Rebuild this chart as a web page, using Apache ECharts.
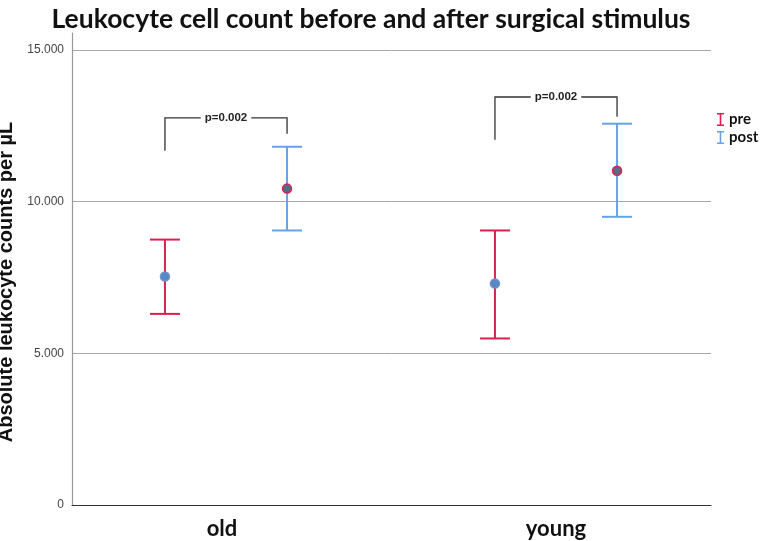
<!DOCTYPE html>
<html>
<head>
<meta charset="UTF-8">
<title>Leukocyte cell count</title>
<script src="https://cdn.jsdelivr.net/npm/echarts@6/dist/echarts.min.js"></script>
<style>
  html, body { margin: 0; padding: 0; background: #fff; }
  #main { width: 766px; height: 541px; }
</style>
</head>
<body>
<div id="main"></div>
<script>
// groups on the x axis
var categories = ['old', 'young'];

// pre-operative: mean and error bar ends
var preMean = [7530, 7300];
var preLow = [6300, 5490];
var preHigh = [8750, 9050];

// post-operative: mean and error bar ends
var postMean = [10430, 11020];
var postLow = [9050, 9500];
var postHigh = [11810, 12570];

// significance brackets (left leg end, top, right leg end)
var pLabels = ['p=0.002', 'p=0.002'];
var bracketLeft = [11680, 12040];
var bracketTop = [12760, 13450];
var bracketRight = [12240, 12800];

var yTicks = [0, 5000, 10000, 15000];

var preColor = '#d8214f';
var postColor = '#65a2e8';
var offset = 0.185; // share of a category band between center and a bar
var yMax = 15560;

function fmt(v) {
  return String(v).replace(/\B(?=(\d{3})+(?!\d))/g, '.');
}

function errorBar(side, color, dotFill, dotStroke) {
  return function (params, api) {
    var c = api.coord([api.value(0), api.value(1)]);
    var band = api.size([1, 0])[0];
    var x = c[0] + side * offset * band;
    var yLo = api.coord([api.value(0), api.value(2)])[1];
    var yHi = api.coord([api.value(0), api.value(3)])[1];
    var w = 15;
    var st = { stroke: color, lineWidth: 2 };
    return {
      type: 'group',
      children: [
        { type: 'line', shape: { x1: x, y1: yHi, x2: x, y2: yLo }, style: st },
        { type: 'line', shape: { x1: x - w, y1: yHi, x2: x + w, y2: yHi }, style: st },
        { type: 'line', shape: { x1: x - w, y1: yLo, x2: x + w, y2: yLo }, style: st },
        { type: 'circle', shape: { cx: x, cy: c[1], r: 4.5 },
          style: { fill: dotFill, stroke: dotStroke, lineWidth: 1.5 } }
      ]
    };
  };
}

function bracket(params, api) {
  var band = api.size([1, 0])[0];
  var cx = api.coord([api.value(0), 0])[0];
  var xl = cx - offset * band;
  var xr = cx + offset * band;
  var yl = api.coord([api.value(0), api.value(1)])[1];
  var yt = api.coord([api.value(0), api.value(2)])[1];
  var yr = api.coord([api.value(0), api.value(3)])[1];
  var st = { stroke: '#333', lineWidth: 1.3, fill: null };
  return {
    type: 'group',
    children: [
      { type: 'polyline', shape: { points: [[xl, yl], [xl, yt], [xr, yt], [xr, yr]] }, style: st },
      { type: 'text', x: cx, y: yt,
        style: { text: pLabels[params.dataIndex], fill: '#222', align: 'center', verticalAlign: 'middle',
          font: 'bold 11.5px "Liberation Sans", Arial, sans-serif',
          backgroundColor: '#fff', padding: [1, 4] } }
    ]
  };
}

var preData = categories.map(function (c, i) { return [i, preMean[i], preLow[i], preHigh[i]]; });
var postData = categories.map(function (c, i) { return [i, postMean[i], postLow[i], postHigh[i]]; });
var bracketData = categories.map(function (c, i) { return [i, bracketLeft[i], bracketTop[i], bracketRight[i]]; });

var chart = echarts.init(document.getElementById('main'));

var option = {
  animation: false,
  backgroundColor: '#fff',
  title: {
    text: 'Leukocyte cell count before and after surgical stimulus',
    left: 366, textAlign: 'center', top: 1,
    textStyle: { fontFamily: 'Lato', fontWeight: 'bold', fontSize: 26.5, color: '#111' }
  },
  legend: {
    data: ['pre', 'post'],
    orient: 'vertical',
    left: 712, top: 107,
    itemWidth: 7, itemHeight: 13, itemGap: 3,
    icon: 'path://M0,0h7v1.6h-2.7v9.8h2.7v1.6h-7v-1.6h2.7v-9.8h-2.7z',
    textStyle: { fontFamily: 'Lato', fontWeight: 'bold', fontSize: 15, color: '#111' }
  },
  // grid 0 carries the visible axes, grid 1 places the marks and group labels
  grid: [
    { left: 72, right: 55, top: 33, bottom: 36, outerBoundsMode: 'none' },
    { left: 61, right: 45, top: 33, bottom: 36, outerBoundsMode: 'none' }
  ],
  xAxis: [{
    type: 'category',
    gridIndex: 0,
    data: categories,
    axisLine: { lineStyle: { color: '#333', width: 1.2 } },
    axisTick: { show: false },
    axisLabel: { show: false }
  }, {
    type: 'category',
    gridIndex: 1,
    data: categories,
    axisLine: { show: false },
    axisTick: { show: false },
    axisLabel: {
      margin: 13, fontFamily: 'Lato', fontWeight: 'bold', fontSize: 22, color: '#111',
      formatter: function (v) { return v === 'old' ? '{a|' + v + '}' : v; },
      rich: { a: { fontFamily: 'Lato', fontWeight: 'bold', fontSize: 22, color: '#111', padding: [0, 8, 0, 0] } }
    }
  }],
  yAxis: [{
    type: 'value',
    gridIndex: 0,
    min: 0, max: yMax, interval: 5000,
    name: 'Absolute leukocyte counts per µL',
    nameLocation: 'middle', nameGap: 49,
    nameTextStyle: { fontFamily: 'Liberation Sans', fontWeight: 'bold', fontSize: 20, color: '#111', padding: [0, 26, 0, 0] },
    axisLine: { show: true, lineStyle: { color: '#999', width: 1.2 } },
    axisTick: { show: false },
    axisLabel: {
      margin: 8, fontFamily: 'Liberation Sans', fontSize: 12, color: '#444',
      formatter: function (v) { return yTicks.indexOf(v) >= 0 ? fmt(v) : ''; }
    },
    splitLine: { show: true, showMinLine: false, showMaxLine: false, lineStyle: { color: '#a8a8a8', width: 1 } }
  }, {
    type: 'value',
    gridIndex: 1,
    min: 0, max: yMax, interval: 5000,
    show: false
  }],
  series: [
    { name: 'pre', type: 'custom', xAxisIndex: 1, yAxisIndex: 1, data: preData, itemStyle: { color: preColor },
      renderItem: errorBar(-1, preColor, '#5a86c4', '#6b93cc'), z: 3 },
    { name: 'post', type: 'custom', xAxisIndex: 1, yAxisIndex: 1, data: postData, itemStyle: { color: postColor },
      renderItem: errorBar(1, postColor, '#5b6b87', preColor), z: 3 },
    { name: 'brackets', type: 'custom', xAxisIndex: 1, yAxisIndex: 1, data: bracketData, renderItem: bracket, z: 4 }
  ]
};

chart.setOption(option);
</script>
</body>
</html>
